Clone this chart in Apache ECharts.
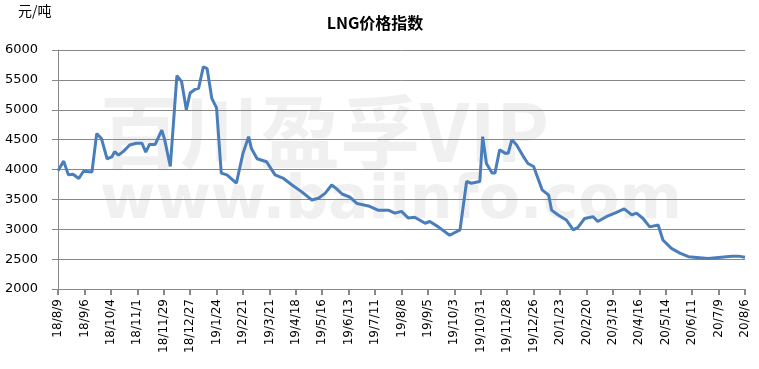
<!DOCTYPE html>
<html>
<head>
<meta charset="utf-8">
<script src="https://cdn.jsdelivr.net/npm/echarts@6/dist/echarts.min.js"></script>
<style>
html,body{margin:0;padding:0;background:#fff;}
#chart{width:759px;height:369px;}
</style>
</head>
<body>
<div id="chart"></div>
<script>
// Daily categories from 2018-08-09 to 2020-08-06
const startDate = [2018, 8, 9];
const dayCount = 729;
const labelEvery = 28;
const titleText = 'LNG价格指数';
const unitText = '元/吨';
const yTicks = [2000, 2500, 3000, 3500, 4000, 4500, 5000, 5500, 6000];

// Day offset (from 18/8/9) of each read value
const pointDays = [
  0, 6, 11, 16, 22, 27, 36, 41, 46, 52,
  57, 60, 64, 69, 76, 83, 89, 93, 97, 103,
  110, 113, 119, 126, 131, 136, 140, 145, 149, 154,
  158, 163, 168, 173, 179, 189, 196, 202, 205, 211,
  221, 230, 239, 248, 258, 269, 276, 283, 290, 295,
  301, 309, 317, 329, 339, 350, 357, 364, 371, 378,
  389, 394, 403, 415, 426, 433, 438, 447, 450, 454,
  460, 463, 468, 474, 477, 481, 486, 493, 498, 504,
  513, 520, 523, 530, 539, 546, 551, 558, 567, 572,
  581, 590, 600, 608, 613, 620, 627, 636, 641, 650,
  659, 668, 689, 714, 721, 728
];
const prices = [
  3980, 4140, 3910, 3920, 3850, 3970, 3960, 4600, 4520, 4180,
  4210, 4300, 4240, 4300, 4410, 4440, 4440, 4290, 4420, 4420,
  4660, 4500, 4050, 5570, 5470, 5000, 5280, 5340, 5360, 5720,
  5690, 5190, 5030, 3940, 3910, 3770, 4270, 4550, 4350, 4180,
  4130, 3910, 3850, 3740, 3630, 3490, 3520, 3600, 3740, 3680,
  3590, 3540, 3430, 3390, 3320, 3320, 3270, 3300, 3190, 3200,
  3100, 3130, 3040, 2900, 2990, 3800, 3770, 3800, 4550, 4100,
  3940, 3940, 4330, 4270, 4270, 4500, 4410, 4220, 4100, 4050,
  3660, 3570, 3320, 3240, 3150, 2990, 3030, 3180, 3210, 3130,
  3210, 3270, 3340, 3240, 3270, 3180, 3040, 3070, 2820, 2680,
  2600, 2540, 2510, 2550, 2550, 2530
];

const categories = [];
for (let k = 0; k < dayCount; k++) {
  const d = new Date(Date.UTC(startDate[0], startDate[1] - 1, startDate[2] + k));
  categories.push((d.getUTCFullYear() % 100) + '/' + (d.getUTCMonth() + 1) + '/' + d.getUTCDate());
}
const seriesData = pointDays.map((d, i) => [d, prices[i]]);

const chart = echarts.init(document.getElementById('chart'));
chart.setOption({
  backgroundColor: '#fff',
  animation: false,
  title: {
    text: titleText,
    left: 370,
    textAlign: 'center',
    top: 10,
    textStyle: { fontFamily: 'Noto Sans CJK SC', fontWeight: 'bold', fontSize: 16, color: '#000' }
  },
  graphic: [
    { type: 'text', left: 18, top: 4, style: { text: unitText, font: '14px "Noto Sans CJK SC"', fill: '#000' } },
    { type: 'text', left: 100, top: 92, z: -1, style: { text: '百川盈孚VIP', font: 'bold 80px "Noto Sans CJK SC"', fill: 'rgba(160,160,160,0.16)' } },
    { type: 'text', left: 100, top: 172, z: -1, style: { text: 'www.baiinfo.com', font: 'bold 60px "DejaVu Sans"', fill: 'rgba(160,160,160,0.16)' } }
  ],
  grid: { left: 58, right: 14, top: 50, bottom: 80, containLabel: false },
  xAxis: {
    type: 'category',
    data: categories,
    boundaryGap: false,
    axisLine: { lineStyle: { color: '#888', width: 1 } },
    axisTick: { interval: labelEvery - 1, length: 6, lineStyle: { color: '#888', width: 2 } },
    axisLabel: {
      interval: labelEvery - 1, rotate: 90, margin: 10,
      fontFamily: 'DejaVu Sans', fontSize: 12, color: '#000'
    },
    splitLine: { show: false }
  },
  yAxis: {
    type: 'value',
    min: yTicks[0], max: yTicks[yTicks.length - 1], interval: 500,
    axisLine: { show: true, lineStyle: { color: '#888', width: 1 } },
    axisTick: { show: true, length: 6, inside: false, lineStyle: { color: '#888' } },
    axisLabel: { fontFamily: 'DejaVu Sans', fontSize: 13, color: '#000', margin: 20, formatter: v => String(v) },
    splitLine: { show: true, lineStyle: { color: '#888', width: 1 } }
  },
  series: [{
    type: 'line',
    data: seriesData,
    symbol: 'none',
    smooth: false,
    lineStyle: { color: '#4A7EBB', width: 3 },
    z: 3
  }]
});
</script>
</body>
</html>
